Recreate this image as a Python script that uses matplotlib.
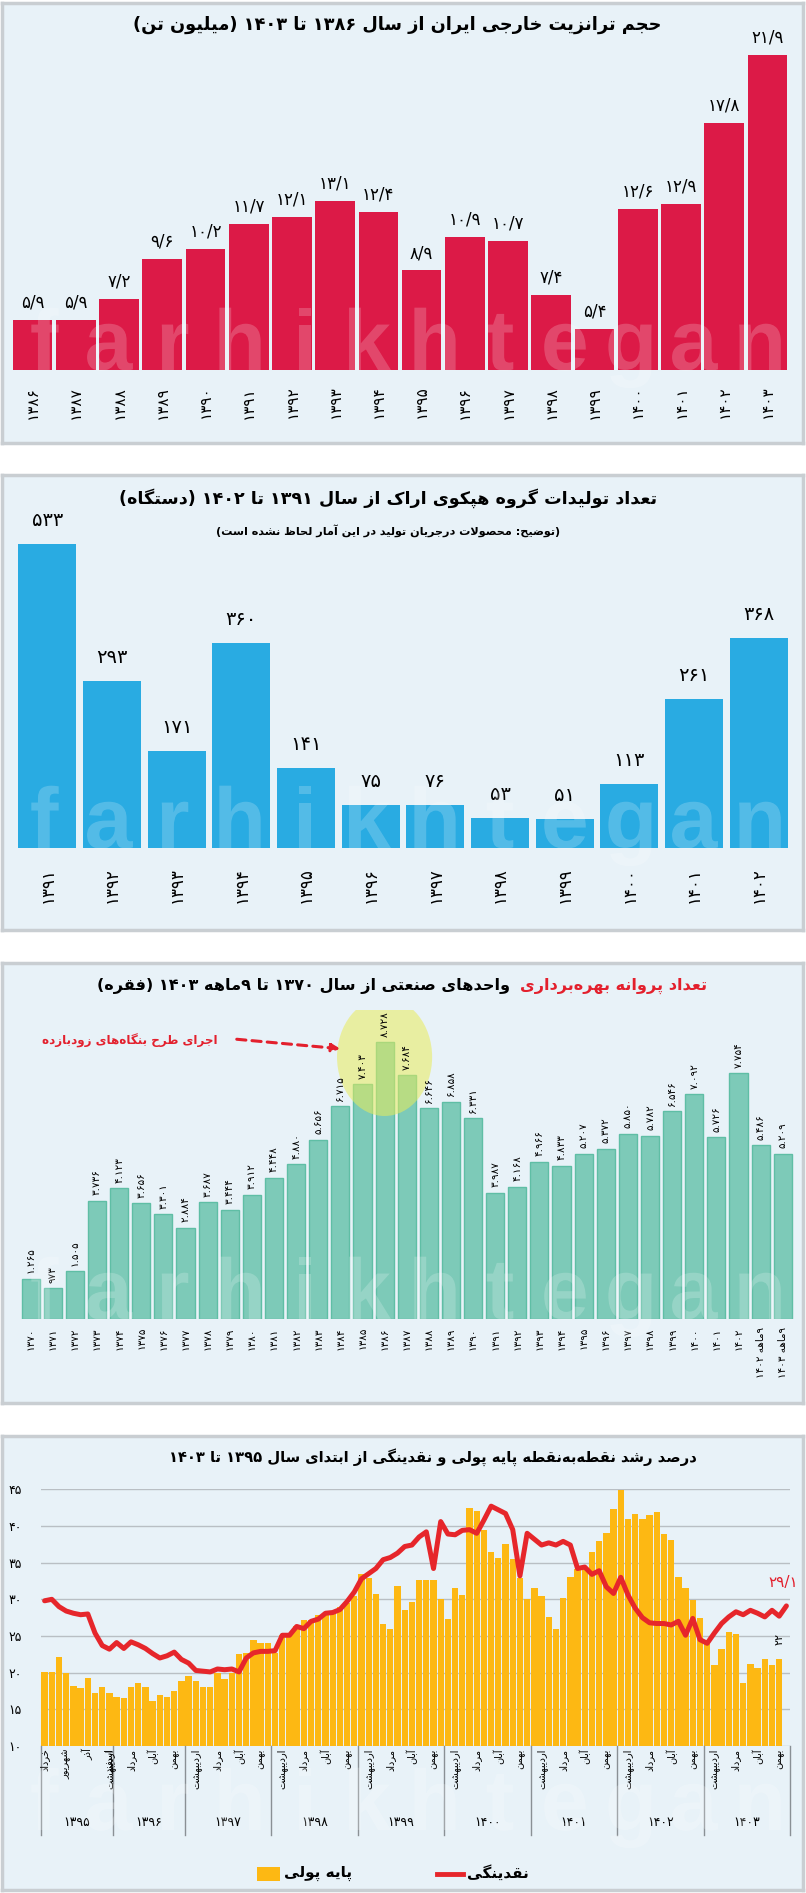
import re
import matplotlib
matplotlib.use('Agg')
import matplotlib.pyplot as plt
from matplotlib.patches import Ellipse, Rectangle, PathPatch
from matplotlib.textpath import TextPath
from matplotlib.font_manager import FontProperties
from matplotlib.transforms import blended_transform_factory, Affine2D, IdentityTransform

plt.rcParams['font.family'] = ['DejaVu Sans']

W, H = 806, 1893

# ---------------- data ----------------
transit_years = list(range(1386, 1404))
transit_vals = [5.9, 5.9, 7.2, 9.6, 10.2, 11.7, 12.1, 13.1, 12.4, 8.9,
                10.9, 10.7, 7.4, 5.4, 12.6, 12.9, 17.8, 21.9]

hepco_years = list(range(1391, 1403))
hepco_vals = [533, 293, 171, 360, 141, 75, 76, 53, 51, 113, 261, 368]

permit_labels = [str(y) for y in range(1370, 1403)] + ['9ماهه 1402', '9ماهه 1403']
permit_vals = [1265, 973, 1505, 3736, 4123, 3656, 3301, 2884, 3687, 3444,
               3912, 4448, 4880, 5656, 6715, 7403, 8728, 7684, 6646, 6858,
               6331, 3987, 4168, 4966, 4833, 5207, 5372, 5850, 5782, 6546,
               7092, 5726, 7754, 5486, 5209]
permit_highlight = [15, 16, 17]

months = ['فروردین', 'اردیبهشت', 'خرداد', 'تیر', 'مرداد', 'شهریور',
          'مهر', 'آبان', 'آذر', 'دی', 'بهمن', 'اسفند']
seg_years = [1395, 1396, 1397, 1398, 1399, 1400, 1401, 1402, 1403]
seg_first_month = [3, 3, 1, 1, 1, 1, 1, 1, 1]
seg_len = [10, 10, 12, 12, 12, 12, 12, 12, 12]
seg_label_months = [[3, 6, 9, 12]] + [[2, 5, 8, 11]] * 8

# monetary base growth (bars) and liquidity growth (line), percent
base_vals = [20.1, 20.1, 22.1, 20.0, 18.2, 17.9, 19.3, 17.2, 18.0, 17.2,
             16.7, 16.5, 18.0, 18.6, 18.1, 16.2, 16.9, 16.7, 17.5, 18.9,
             19.5, 18.8, 18.0, 18.0, 20.0, 19.2, 20.0, 22.6, 22.7, 24.5,
             24.1, 24.1, 22.7, 25.1, 25.3, 26.3, 27.2, 27.2, 27.9, 28.2,
             28.3, 28.9, 29.5, 30.4, 33.5, 32.9, 30.7, 26.6, 26.0, 31.8,
             28.5, 29.6, 32.7, 32.7, 32.7, 30.0, 27.3, 31.5, 30.6, 42.5,
             42.0, 39.5, 36.4, 35.7, 37.5, 35.5, 32.9, 30.0, 31.5, 30.4,
             27.6, 26.0, 30.2, 33.0, 34.2, 34.2, 36.5, 38.0, 39.1, 42.3,
             44.9, 41.0, 41.7, 41.0, 41.5, 41.9, 38.9, 38.1, 33.0, 31.5,
             29.9, 27.5, 23.9, 21.0, 23.2, 25.5, 25.3, 18.6, 21.2, 20.6,
             21.9, 21.1, 21.9]
liq_vals = [29.8, 30.0, 29.0, 28.4, 28.1, 27.9, 28.0, 25.4, 23.7, 23.2,
            24.1, 23.3, 24.2, 23.8, 23.3, 22.6, 22.0, 22.3, 22.8, 21.8,
            21.3, 20.3, 20.2, 20.1, 20.5, 20.4, 20.5, 20.1, 22.0, 22.7,
            22.9, 22.9, 23.0, 25.1, 25.1, 26.3, 26.0, 27.0, 27.3, 28.1,
            28.2, 28.6, 29.7, 31.0, 32.8, 33.5, 34.2, 35.4, 35.7, 36.3,
            37.2, 37.4, 38.5, 39.2, 34.2, 40.6, 38.9, 38.8, 39.4, 39.5,
            39.0, 40.8, 42.7, 42.2, 41.7, 39.5, 33.2, 39.0, 38.2, 37.4,
            37.7, 37.4, 37.9, 37.4, 34.2, 34.4, 33.4, 33.9, 31.7, 30.8,
            33.0, 30.6, 28.8, 27.5, 26.8, 26.7, 26.7, 26.5, 27.0, 25.1,
            27.4, 24.5, 24.0, 25.4, 26.7, 27.6, 28.3, 27.9, 28.5, 28.1,
            27.6, 28.5, 27.7, 29.1]

# ---------------- persian text helpers ----------------
FA = str.maketrans('0123456789', '۰۱۲۳۴۵۶۷۸۹')


def fa(s):
    return str(s).translate(FA)


# isolated, final, initial, medial
FORMS = {
    'ا': ('\uFE8D', '\uFE8E', None, None), 'آ': ('\uFE81', '\uFE82', None, None),
    'ب': ('\uFE8F', '\uFE90', '\uFE91', '\uFE92'), 'پ': ('\uFB56', '\uFB57', '\uFB58', '\uFB59'),
    'ت': ('\uFE95', '\uFE96', '\uFE97', '\uFE98'), 'ث': ('\uFE99', '\uFE9A', '\uFE9B', '\uFE9C'),
    'ج': ('\uFE9D', '\uFE9E', '\uFE9F', '\uFEA0'), 'چ': ('\uFB7A', '\uFB7B', '\uFB7C', '\uFB7D'),
    'ح': ('\uFEA1', '\uFEA2', '\uFEA3', '\uFEA4'), 'خ': ('\uFEA5', '\uFEA6', '\uFEA7', '\uFEA8'),
    'د': ('\uFEA9', '\uFEAA', None, None), 'ذ': ('\uFEAB', '\uFEAC', None, None),
    'ر': ('\uFEAD', '\uFEAE', None, None), 'ز': ('\uFEAF', '\uFEB0', None, None),
    'ژ': ('\uFB8A', '\uFB8B', None, None),
    'س': ('\uFEB1', '\uFEB2', '\uFEB3', '\uFEB4'), 'ش': ('\uFEB5', '\uFEB6', '\uFEB7', '\uFEB8'),
    'ص': ('\uFEB9', '\uFEBA', '\uFEBB', '\uFEBC'), 'ض': ('\uFEBD', '\uFEBE', '\uFEBF', '\uFEC0'),
    'ط': ('\uFEC1', '\uFEC2', '\uFEC3', '\uFEC4'), 'ظ': ('\uFEC5', '\uFEC6', '\uFEC7', '\uFEC8'),
    'ع': ('\uFEC9', '\uFECA', '\uFECB', '\uFECC'), 'غ': ('\uFECD', '\uFECE', '\uFECF', '\uFED0'),
    'ف': ('\uFED1', '\uFED2', '\uFED3', '\uFED4'), 'ق': ('\uFED5', '\uFED6', '\uFED7', '\uFED8'),
    'ک': ('\uFB8E', '\uFB8F', '\uFB90', '\uFB91'), 'گ': ('\uFB92', '\uFB93', '\uFB94', '\uFB95'),
    'ل': ('\uFEDD', '\uFEDE', '\uFEDF', '\uFEE0'), 'م': ('\uFEE1', '\uFEE2', '\uFEE3', '\uFEE4'),
    'ن': ('\uFEE5', '\uFEE6', '\uFEE7', '\uFEE8'), 'ه': ('\uFEE9', '\uFEEA', '\uFEEB', '\uFEEC'),
    'و': ('\uFEED', '\uFEEE', None, None),
    'ی': ('\uFBFC', '\uFBFD', '\uFBFE', '\uFBFF'), 'ئ': ('\uFE89', '\uFE8A', '\uFE8B', '\uFE8C'),
}
LAM_ALEF = {'ا': ('\uFEFB', '\uFEFC'), 'آ': ('\uFEF5', '\uFEF6')}


def shape(text):
    out = []
    n = len(text)
    i = 0
    while i < n:
        c = text[i]
        if c not in FORMS:
            if c != '\u200c':
                out.append(c)
            i += 1
            continue
        prev = text[i - 1] if i > 0 else ''
        jp = prev in FORMS and FORMS[prev][2] is not None
        if c == 'ل' and i + 1 < n and text[i + 1] in LAM_ALEF:
            out.append(LAM_ALEF[text[i + 1]][1 if jp else 0])
            i += 2
            continue
        nxt = text[i + 1] if i + 1 < n else ''
        jn = FORMS[c][2] is not None and nxt in FORMS
        iso, fin, ini, med = FORMS[c]
        out.append(med if (jp and jn) else fin if jp else ini if jn else iso)
        i += 1
    return ''.join(out)


def rtl(text):
    s = shape(fa(text))
    tokens = re.findall(r'[۰-۹]+(?:[./][۰-۹]+)*|[^۰-۹]+', s)
    mirror = str.maketrans('()', ')(')
    res = []
    for t in reversed(tokens):
        if t[0] in '۰۱۲۳۴۵۶۷۸۹':
            res.append(t)
        else:
            res.append(t[::-1].translate(mirror))
    return ''.join(res)


# ---------------- figure ----------------
fig = plt.figure(figsize=(W / 100, H / 100), dpi=100)
fig.patch.set_facecolor('white')


def add_ax(x0, y0, x1, y1, **kw):
    return fig.add_axes([x0 / W, 1 - y1 / H, (x1 - x0) / W, (y1 - y0) / H], **kw)


def panel(y0, y1):
    bg = add_ax(2, y0, 803, y1)
    bg.set_facecolor('#e8f2f8')
    bg.set_xticks([])
    bg.set_yticks([])
    for s in bg.spines.values():
        s.set_color('#c9ced2')
        s.set_linewidth(2.5)
    bg.set_zorder(-5)


wm_font = FontProperties(family='Liberation Sans', weight='bold')


def watermark(y_base):
    # site watermark drawn as outline shapes
    for k, ch in enumerate('farhikhtegan'):
        tp = TextPath((0, 0), ch, size=86, prop=wm_font)
        ext = tp.get_extents()
        x = 45 + k * 65 - (ext.x0 + ext.x1) / 2
        path = tp.transformed(Affine2D().translate(x, H - y_base))
        fig.patches.append(PathPatch(path, transform=IdentityTransform(),
                                     facecolor='white', edgecolor='none',
                                     alpha=0.2, zorder=6))


def ftext(x, y, s, **kw):
    return fig.text(x / W, 1 - y / H, s, **kw)


panel(3, 443)
panel(475, 930)
panel(963, 1403)
panel(1436, 1890)

# ---- panel 1: transit ----
ax1 = add_ax(11, 20, 789, 370)
ax1.set_facecolor('none')
ax1.bar(range(len(transit_vals)), transit_vals, width=0.92, color='#dc1a47', zorder=2)
ax1.set_xlim(-0.5, len(transit_vals) - 0.5)
ax1.set_ylim(2.9, 2.9 + 350 / 16.6)
ax1.axis('off')
tr1 = blended_transform_factory(ax1.transData, ax1.transAxes)
for i, v in enumerate(transit_vals):
    ax1.annotate(fa(f'{v:.1f}').replace('.', '/'), (i, v), xytext=(0, 6),
                 textcoords='offset points', ha='center', va='bottom', fontsize=12)
    ax1.text(i, -0.045, fa(transit_years[i]), rotation=90, ha='center', va='top',
             fontsize=11, transform=tr1)
ftext(397, 25, rtl('حجم ترانزیت خارجی ایران از سال 1386 تا 1403 (میلیون تن)'),
      ha='center', va='center', fontsize=12.8, fontweight='bold')
watermark(370)

# ---- panel 2: hepco ----
ax2 = add_ax(15, 520, 791, 848)
ax2.set_facecolor('none')
ax2.bar(range(len(hepco_vals)), hepco_vals, width=0.9, color='#29abe2', zorder=2)
ax2.set_xlim(-0.5, len(hepco_vals) - 0.5)
ax2.set_ylim(0, 328 / 0.57)
ax2.axis('off')
tr2 = blended_transform_factory(ax2.transData, ax2.transAxes)
for i, v in enumerate(hepco_vals):
    ax2.annotate(fa(v), (i, v), xytext=(0, 10), textcoords='offset points',
                 ha='center', va='bottom', fontsize=14)
    ax2.text(i, -0.058, fa(hepco_years[i]), rotation=90, ha='center', va='top',
             fontsize=12, transform=tr2)
ftext(388, 498, rtl('تعداد تولیدات گروه هپکوی اراک از سال 1391 تا 1402 (دستگاه)'),
      ha='center', va='center', fontsize=12.6, fontweight='bold')
ftext(388, 531, rtl('(توضیح: محصولات درجریان تولید در این آمار لحاظ نشده است)'),
      ha='center', va='center', fontsize=8.1, fontweight='bold')
watermark(848)

# ---- panel 3: permits ----
ax3 = add_ax(19.6, 1010, 793.8, 1319)
ax3.set_facecolor('none')
ax3.bar(range(len(permit_vals)), permit_vals, width=0.82, color='#7dcab8',
        edgecolor='#5fbea5', linewidth=1, zorder=2)
ax3.set_xlim(-0.5, len(permit_vals) - 0.5)
ax3.set_ylim(0, 309 / 0.0317)
ax3.axis('off')
hl = permit_highlight
ax3.add_patch(Ellipse((hl[1], 8265), 4.3, 3722, facecolor='#e8ec5a', alpha=0.55,
                      edgecolor='none', zorder=3))
tr3 = blended_transform_factory(ax3.transData, ax3.transAxes)
for i, v in enumerate(permit_vals):
    lab = f'{v:,}'.replace(',', '.')
    ax3.annotate(fa(lab), (i, v), xytext=(0, 4), textcoords='offset points',
                 rotation=90, ha='center', va='bottom', fontsize=7.5, zorder=4)
    ax3.text(i, -0.026, rtl(permit_labels[i]), rotation=90, ha='center', va='top',
             fontsize=7.5, transform=tr3)
t_red = ftext(707, 986, rtl('تعداد پروانه بهره\u200cبرداری'), ha='right', va='center',
              fontsize=11.6, fontweight='bold', color='#e3202d')
fig.canvas.draw()
bb = t_red.get_window_extent()
fig.text((bb.x0 - 4) / W, 1 - 986 / H,
         rtl(' واحدهای صنعتی از سال 1370 تا 9ماهه 1403 (فقره)'),
         ha='right', va='center', fontsize=11.6, fontweight='bold')
ftext(218, 1041, rtl('اجرای طرح بنگاه\u200cهای زودبازده'), ha='right', va='center',
      fontsize=8.6, fontweight='bold', color='#e3202d')
ax3.annotate('', xy=(343, H - 1049), xycoords='figure pixels',
             xytext=(234, H - 1039), textcoords='figure pixels',
             arrowprops=dict(arrowstyle='-|>', color='#e3202d', lw=2.2,
                             linestyle=(0, (3, 2)), mutation_scale=12))
watermark(1319)

# ---- panel 4: monetary base / liquidity ----
ax4 = add_ax(41, 1489.3, 790, 1746)
ax4.set_facecolor('none')
nslots = sum(seg_len)
ax4.bar(range(len(base_vals)), base_vals, width=0.88, color='#fdb813', zorder=2)
ax4.plot(range(len(liq_vals)), liq_vals, color='#e6262b', lw=3.6, zorder=3,
         solid_capstyle='round', solid_joinstyle='round')
ax4.set_xlim(-0.5, nslots - 0.5)
ax4.set_ylim(10, 45)
ax4.set_yticks(range(10, 50, 5))
ax4.set_yticklabels([fa(t) for t in range(10, 50, 5)], fontsize=9)
ax4.tick_params(axis='y', length=0, pad=14)
ax4.set_xticks([])
ax4.grid(axis='y', color='#b9bfc4', lw=1, zorder=0)
for s in ax4.spines.values():
    s.set_visible(False)
tr4 = blended_transform_factory(ax4.transData, ax4.transAxes)
ah = 1746 - 1489.3
start = 0
ax4.plot([-0.5, -0.5], [0, -(1835 - 1746) / ah], color='#8a9095', lw=1,
         transform=tr4, clip_on=False)
for y, fm, ln, labs in zip(seg_years, seg_first_month, seg_len, seg_label_months):
    end = start + ln
    ax4.plot([end - 0.5, end - 0.5], [0, -(1835 - 1746) / ah], color='#8a9095', lw=1,
             transform=tr4, clip_on=False)
    for m in labs:
        k = start + (m - fm)
        ax4.text(k, -0.01, rtl(months[m - 1]), rotation=90, ha='center', va='top',
                 fontsize=7, transform=tr4)
    ax4.text((start + end - 1) / 2, -(1823 - 1746) / ah, fa(y), ha='center',
             va='center', fontsize=9, transform=tr4)
    start = end
ax4.text(len(liq_vals) - 1.5, liq_vals[-1] + 3.2, fa('29/1'), ha='center',
         va='center', fontsize=11, color='#e3202d')
ax4.annotate(fa(f'{base_vals[-1]:.0f}'), (len(base_vals) - 1, base_vals[-1]),
             xytext=(0, 10), textcoords='offset points', rotation=90,
             ha='center', va='bottom', fontsize=8)
ftext(433, 1457, rtl('درصد رشد نقطه\u200cبه\u200cنقطه پایه پولی و نقدینگی از ابتدای سال 1395 تا 1403'),
      ha='center', va='center', fontsize=10.6, fontweight='bold')
# legend
fig.patches.append(Rectangle((257 / W, 1 - 1881 / H), 23 / W, 14 / H,
                             transform=fig.transFigure, facecolor='#fdb813'))
ftext(284, 1873, rtl('پایه پولی'), ha='left', va='center', fontsize=11, fontweight='bold')
fig.lines.append(plt.Line2D([437 / W, 463 / W], [1 - 1874 / H] * 2, transform=fig.transFigure,
                            color='#e6262b', lw=3.5))
ftext(467, 1873, rtl('نقدینگی'), ha='left', va='center', fontsize=11, fontweight='bold')
watermark(1830)

fig.savefig('out.png', dpi=100)
